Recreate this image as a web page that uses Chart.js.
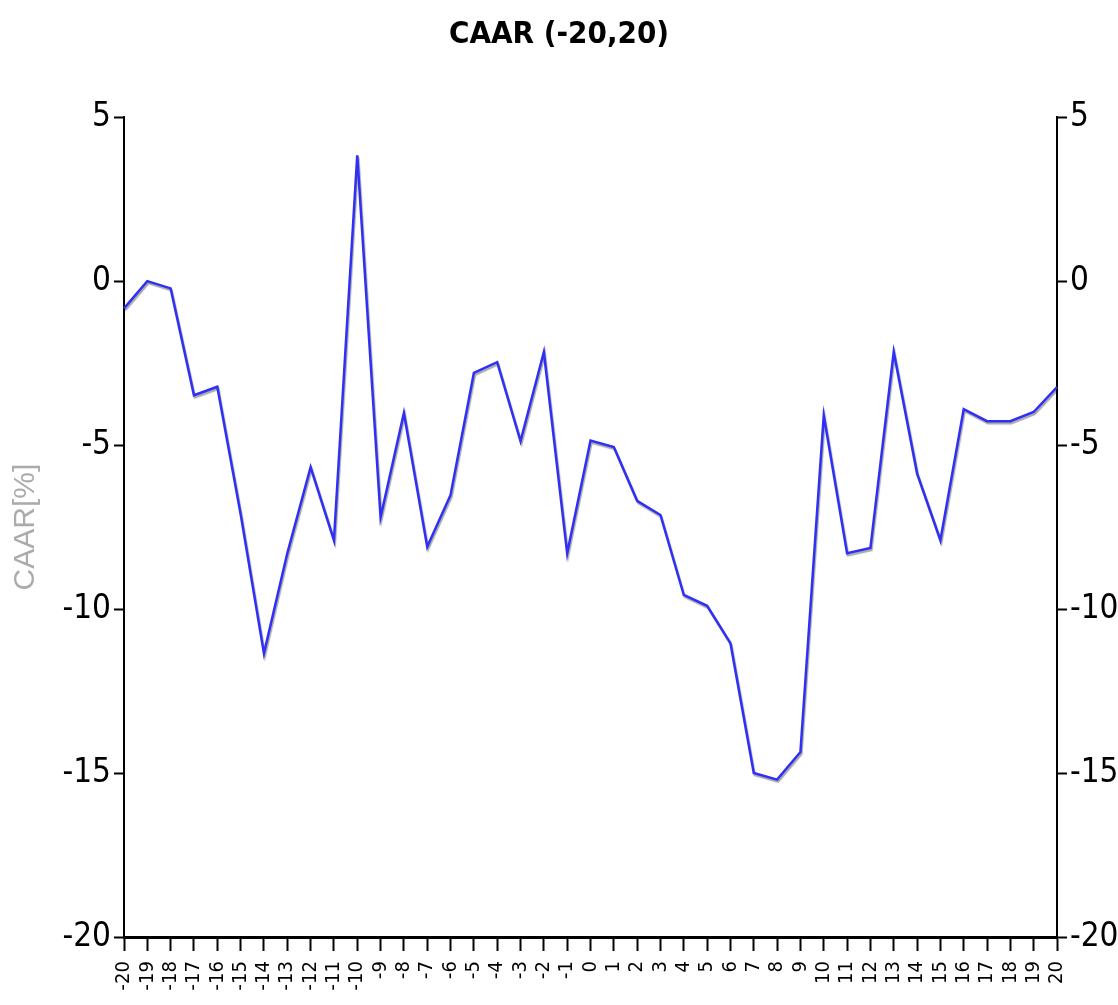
<!DOCTYPE html>
<html>
<head>
<meta charset="utf-8">
<script src="https://cdn.jsdelivr.net/npm/chart.js@4"></script>
<style>
html,body{margin:0;padding:0;background:#fff;}
canvas{display:block;}
</style>
</head>
<body>
<canvas id="c" width="1118" height="1005"></canvas>
<script>
const categories = ["-20","-19","-18","-17","-16","-15","-14","-13","-12","-11","-10","-9","-8","-7","-6","-5","-4","-3","-2","-1","0","1","2","3","4","5","6","7","8","9","10","11","12","13","14","15","16","17","18","19","20"];
const caar = [-0.83,0.0,-0.22,-3.48,-3.22,-7.1,-11.35,-8.3,-5.67,-7.9,3.84,-7.2,-4.02,-8.1,-6.52,-2.8,-2.47,-4.88,-2.16,-8.3,-4.86,-5.06,-6.7,-7.13,-9.57,-9.9,-11.04,-15.0,-15.2,-14.36,-4.1,-8.3,-8.14,-2.16,-5.86,-7.9,-3.9,-4.27,-4.27,-3.99,-3.23];
const yTicks = [5,0,-5,-10,-15,-20];

const NARROW = '"Liberation Sans Narrow","Arial Narrow","DejaVu Sans Condensed",sans-serif';

const shadowPlugin = {
  id: 'lineShadow',
  beforeDatasetDraw(chart) {
    const ctx = chart.ctx;
    ctx.save();
    ctx.shadowColor = 'rgba(0,0,0,0.35)';
    ctx.shadowOffsetX = 1;
    ctx.shadowOffsetY = 2;
    ctx.shadowBlur = 1;
  },
  afterDatasetDraw(chart) {
    chart.ctx.restore();
  }
};

const yCommon = (pos) => ({
  type: 'linear',
  position: pos,
  min: -20,
  max: 5,
  afterBuildTicks: (s) => { s.ticks = yTicks.map(v => ({value: v})); },
  grid: { drawOnChartArea: false, drawTicks: true, tickLength: 10, tickWidth: 2, color: '#000' },
  border: { display: true, color: '#000', width: 2 },
  ticks: { color: '#000', padding: 3, font: { family: NARROW, size: 33 } }
});

new Chart(document.getElementById('c'), {
  type: 'line',
  data: {
    labels: categories,
    datasets: [{
      label: 'CAAR',
      data: caar,
      borderColor: '#2f2ff5',
      borderWidth: 2.5,
      pointRadius: 0,
      tension: 0,
      fill: false
    }]
  },
  plugins: [shadowPlugin],
  options: {
    responsive: false,
    animation: false,
    layout: { padding: 0 },
    plugins: {
      legend: { display: false },
      tooltip: { enabled: false },
      title: {
        display: true,
        text: 'CAAR (-20,20)',
        color: '#000',
        font: { family: NARROW, size: 31, weight: 'bold', lineHeight: 1.2 },
        padding: { top: 16, bottom: 64 }
      }
    },
    scales: {
      x: {
        offset: false,
        grid: { drawOnChartArea: false, drawTicks: true, tickLength: 14, tickWidth: 2, color: '#000' },
        border: { display: true, color: '#000', width: 3 },
        ticks: { color: '#000', autoSkip: false, minRotation: 90, maxRotation: 90, padding: 10, font: { family: NARROW, size: 20 } },
        afterFit: (s) => { s.height = 68; }
      },
      y: Object.assign(yCommon('left'), {
        title: { display: true, text: 'CAAR[%]', color: '#ababab', font: { family: '"Liberation Sans",Arial,sans-serif', size: 30 }, padding: { top: 8, bottom: 0 } },
        afterFit: (s) => { s.width = 124; }
      }),
      y2: Object.assign(yCommon('right'), {
        afterFit: (s) => { s.width = 61; }
      })
    }
  }
});
</script>
</body>
</html>
